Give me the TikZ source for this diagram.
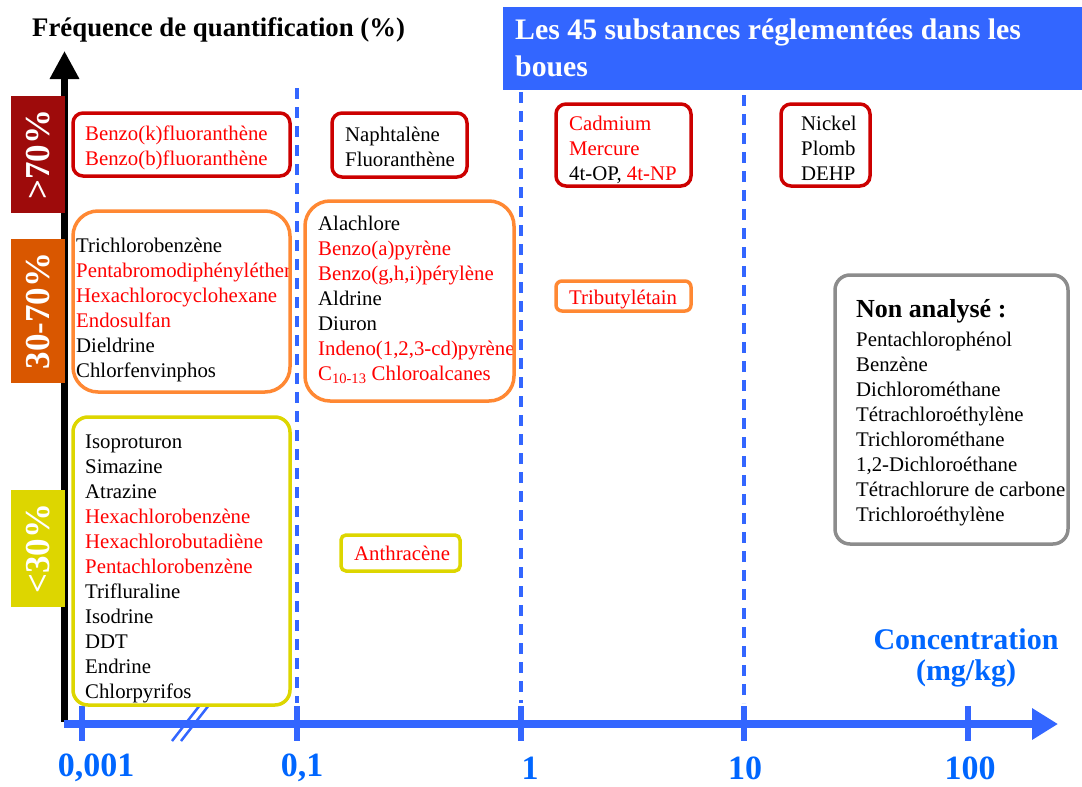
\documentclass[tikz,border=0pt]{standalone}
\usepackage{fontspec}
\setmainfont{Liberation Serif}
\usepackage{xcolor}
\usetikzlibrary{arrows.meta}

\definecolor{axisblue}{RGB}{51,102,255}
\definecolor{labelblue}{RGB}{0,102,255}
\definecolor{boxred}{RGB}{204,0,0}
\definecolor{boxorange}{RGB}{255,136,51}
\definecolor{boxyellow}{RGB}{221,214,0}
\definecolor{boxgray}{RGB}{140,140,140}
\definecolor{tagred}{RGB}{158,11,11}
\definecolor{tagorange}{RGB}{217,87,0}
\definecolor{subred}{RGB}{255,0,0}

\newcommand{\rd}[1]{\textcolor{subred}{#1}}

\begin{document}
\begin{tikzpicture}[x=1pt, y=-1pt,
    listtext/.style={anchor=north west, align=left, inner sep=0pt, font=\fontsize{20.8}{25}\selectfont},
    tagtext/.style={rotate=90, inner sep=0pt, text=white, font=\fontsize{35}{35}\selectfont\bfseries},
    ticklabel/.style={text=labelblue, inner sep=0pt, font=\fontsize{34}{34}\selectfont\bfseries},
    boxframe/.style={line width=3.5pt, rounded corners=#1}]
    \useasboundingbox (0,0) rectangle (1082,787);

    % axes
    \coordinate (O) at (64.5,722);
    \coordinate (Ytop) at (64.5,51);
    \coordinate (Xstart) at (64,724);
    \coordinate (Xend) at (1058,724);
    \draw[line width=6.5pt, -{Triangle[width=28pt,length=28pt]}] (O) -- (Ytop);
    \draw[axisblue, line width=8pt, -{Triangle[width=30pt,length=26pt]}] (Xstart) -- (Xend);

    \coordinate (T0) at (82,706);
    \coordinate (T1) at (297,706);
    \coordinate (T2) at (521,706);
    \coordinate (T3) at (744,706);
    \coordinate (T4) at (968,706);
    \draw[axisblue, line width=6pt]
    (T0) -- ++(0,35)
    (T1) -- ++(0,35)
    (T2) -- ++(0,35)
    (T3) -- ++(0,35)
    (T4) -- ++(0,35);
    \draw[axisblue, line width=2.5pt]
    (172,741) -- (200,705)
    (181,741) -- (209,705);

    % dashed guides
    \draw[axisblue, line width=3.5pt, dash pattern=on 11pt off 8pt]
    (297,88) -- (297,703)
    (521,92) -- (521,703)
    (744,95) -- (744,703);

    \node[ticklabel] (L0) at (96,768) {0,001};
    \node[ticklabel] (L1) at (302,768) {0,1};
    \node[ticklabel] (L2) at (530,768) {1};
    \node[ticklabel] (L3) at (745,768) {10};
    \node[ticklabel] (L4) at (970,768) {100};
    \node[anchor=north, align=center, inner sep=0pt, text=labelblue,
          font=\fontsize{30}{31}\selectfont\bfseries] (conc) at (966,628) {Concentration\\(mg/kg)};

    % titles
    \node[anchor=west, inner sep=0pt, font=\fontsize{26.8}{30}\selectfont\bfseries] (freq) at (32,30)
    {Fréquence de quantification (\%)};
    \fill[axisblue] (503,7) rectangle (1082,90);
    \node[anchor=north west, align=left, inner sep=0pt, text=white,
          font=\fontsize{29.8}{37}\selectfont\bfseries] (reg) at (515,19)
    {Les 45 substances réglementées dans les\\boues};

    % frequency classes
    \fill[tagred] (11,96) rectangle (65,213);
    \fill[tagorange] (11,239) rectangle (65,383);
    \fill[boxyellow] (11,490) rectangle (65,607);
    \node[tagtext] (f70) at (38,154.5) {>70\%};
    \node[tagtext] (f3070) at (38,311) {30-70\%};
    \node[tagtext] (f30) at (38,548.5) {<30\%};

    % substances > 70 %
    \node[listtext] (s1) at (85,126) {\rd{Benzo(k)fluoranthène}\\\rd{Benzo(b)fluoranthène}};
    \draw[boxred, boxframe=10pt] (73,113) rectangle (290,176);
    \node[listtext] (s2) at (345,127) {Naphtalène\\Fluoranthène};
    \draw[boxred, boxframe=10pt] (332,113) rectangle (467,177);
    \node[listtext] (s3) at (569,116) {\rd{Cadmium}\\\rd{Mercure}\\4t-OP, \rd{4t-NP}};
    \draw[boxred, boxframe=10pt] (556,104) rectangle (691,186);
    \node[listtext] (s4) at (801,116) {Nickel\\Plomb\\DEHP};
    \draw[boxred, boxframe=10pt] (781,104) rectangle (870,186);

    % substances 30-70 %
    \node[listtext] (m1) at (76,238) {Trichlorobenzène\\\rd{Pentabromodiphényléther}\\\rd{Hexachlorocyclohexane}\\
      \rd{Endosulfan}\\Dieldrine\\Chlorfenvinphos};
    \draw[boxorange, boxframe=25pt] (73,211) rectangle (290,392);
    \node[listtext] (m2) at (318,216) {Alachlore\\\rd{Benzo(a)pyrène}\\\rd{Benzo(g,h,i)pérylène}\\Aldrine\\Diuron\\
      \rd{Indeno(1,2,3-cd)pyrène}\\\rd{C\textsubscript{10-13} Chloroalcanes}};
    \draw[boxorange, boxframe=25pt] (305,201) rectangle (514,401);
    \node[listtext] (m3) at (569,290) {\rd{Tributylétain}};
    \draw[boxorange, boxframe=6pt] (556,281) rectangle (691,311);

    % substances < 30 %
    \node[listtext] (b1) at (85,435) {Isoproturon\\Simazine\\Atrazine\\\rd{Hexachlorobenzène}\\\rd{Hexachlorobutadiène}\\
      \rd{Pentachlorobenzène}\\Trifluraline\\Isodrine\\DDT\\Endrine\\Chlorpyrifos};
    \draw[boxyellow, boxframe=15pt] (73,417) rectangle (290,705);
    \node[listtext] (b2) at (354,546) {\rd{Anthracène}};
    \draw[boxyellow, boxframe=5pt] (341,535) rectangle (460,571);

    % not analysed
    \node[anchor=north west, inner sep=0pt, font=\fontsize{26}{30}\selectfont\bfseries] (na) at (856,299) {Non analysé :};
    \node[listtext] (n1) at (856,332) {Pentachlorophénol\\Benzène\\Dichlorométhane\\Tétrachloroéthylène\\
      Trichlorométhane\\1,2-Dichloroéthane\\Tétrachlorure de carbone\\Trichloroéthylène};
    \draw[boxgray, boxframe=15pt] (835,275) rectangle (1068,544);
\end{tikzpicture}
\end{document}
